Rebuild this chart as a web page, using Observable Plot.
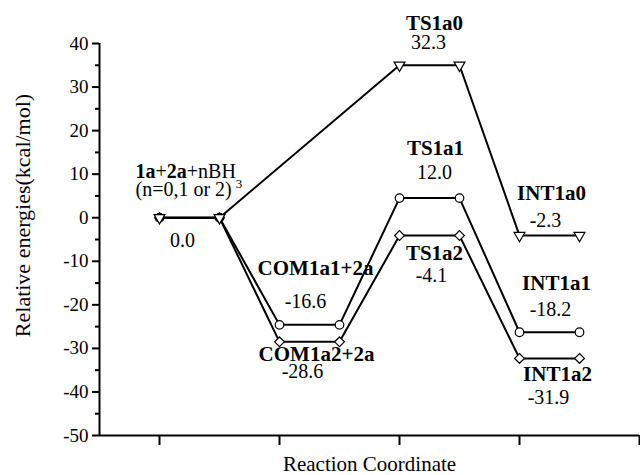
<!DOCTYPE html>
<html><head><meta charset="utf-8">
<script src="https://cdn.jsdelivr.net/npm/d3@7"></script>
<script src="https://cdn.jsdelivr.net/npm/@observablehq/plot@0.6"></script>
<style>body{margin:0;background:#fff} svg{display:block} svg text{font-family:'Liberation Serif','Times New Roman',Times,serif}</style>
</head><body><div id="chart"></div>
<script>
// ---- data ----
const triX  = [1, 1.5, 3, 3.5, 4, 4.5];
const triY  = [0, 0, 35.0, 35.0, -4.1, -4.1];
const circX = [1, 1.5, 2, 2.5, 3, 3.5, 4, 4.5];
const circY = [0, 0, -24.6, -24.6, 4.5, 4.5, -26.3, -26.3];
const diamX = [1, 1.5, 2, 2.5, 3, 3.5, 4, 4.5];
const diamY = [0, 0, -28.5, -28.5, -4.1, -4.1, -32.3, -32.3];

const yMajor = [-50, -40, -30, -20, -10, 0, 10, 20, 30, 40];
const yMinor = [-45, -35, -25, -15, -5, 5, 15, 25, 35];
const xTicks = [1, 2, 3, 4, 5];

const startName  = "1a+2a+nBH3";
const startNote  = "(n=0,1 or 2)";
const startValue = "0.0";
const stateNames  = ["COM1a1+2a", "COM1a2+2a", "TS1a0", "TS1a1", "TS1a2", "INT1a0", "INT1a1", "INT1a2"];
const stateValues = ["-16.6", "-28.6", "32.3", "12.0", "-4.1", "-2.3", "-18.2", "-31.9"];
const xTitle = "Reaction Coordinate";
const yTitle = "Relative energies(kcal/mol)";

// ---- build tables ----
const pts = (xs, ys) => xs.map((x, i) => ({x, y: ys[i]}));
const tri = pts(triX, triY), circ = pts(circX, circY), diam = pts(diamX, diamY);
const seg = (xs, ys, k) => ({x: (xs[2*k] + xs[2*k+1]) / 2, y: ys[2*k]});

const anchors = [
  seg(circX, circY, 1), seg(diamX, diamY, 1),
  seg(triX, triY, 1), seg(circX, circY, 2), seg(diamX, diamY, 2),
  seg(triX, triY, 2), seg(circX, circY, 3), seg(diamX, diamY, 3)
];
const nameOff  = [[6, -57], [7, 12], [5, -42], [6, -50], [5, 18], [2, -42], [7, -49], [8, 16]];
const valueOff = [[-4, -23], [-7, 30], [-1, -23], [5, -26], [2, 40], [-4, -15], [1, -23], [-1, 39]];
const nameRows  = stateNames.map((t, i) => ({...anchors[i], t, dx: nameOff[i][0], dy: nameOff[i][1]}));
const valueRows = stateValues.map((t, i) => ({...anchors[i], t, dx: valueOff[i][0], dy: valueOff[i][1]}));
const start = seg(triX, triY, 0);

const ff = "'Liberation Serif', 'Times New Roman', Times, serif";
const lbl = (rows, bold) => rows.map(r => Plot.text([r], {
  x: "x", y: "y", text: "t", dx: r.dx, dy: r.dy,
  fontSize: bold ? 21 : 20, fontFamily: ff, fontWeight: bold ? "bold" : "normal", fill: "black"
}));

const plot = Plot.plot({
  width: 640, height: 475,
  marginLeft: 99, marginRight: 1, marginTop: 43, marginBottom: 40,
  x: {domain: [0.5, 5], label: null},
  y: {domain: [-50, 40], label: null},
  style: `font-family: ${ff}; font-size: 19px; color: black; background: white; overflow: visible;`,
  marks: [
    Plot.axisY({ticks: yMinor, tickSize: 4, tickFormat: () => "", strokeWidth: 2, label: null}),
    Plot.axisY({ticks: yMajor, tickSize: 7, tickPadding: 4, strokeWidth: 2, fontSize: 19, fontFamily: ff,
                tickFormat: d => String(d), label: null}),
    Plot.axisX({ticks: xTicks, tickSize: 10, tickFormat: () => "", strokeWidth: 2, label: null}),
    Plot.ruleX([0.5], {strokeWidth: 2}),
    Plot.ruleY([-50], {strokeWidth: 2}),
    Plot.line(circ, {x: "x", y: "y", stroke: "black", strokeWidth: 2}),
    Plot.line(diam, {x: "x", y: "y", stroke: "black", strokeWidth: 2}),
    Plot.line(tri,  {x: "x", y: "y", stroke: "black", strokeWidth: 2}),
    Plot.dot(circ, {x: "x", y: "y", symbol: "circle", r: 4.3, fill: "white", stroke: "black", strokeWidth: 1.2}),
    Plot.dot(diam, {x: "x", y: "y", symbol: "diamond2", r: 4.4, fill: "white", stroke: "black", strokeWidth: 1.2}),
    Plot.dot(tri,  {x: "x", y: "y", symbol: "triangle", rotate: 180, r: 4.0, fill: "white", stroke: "black", strokeWidth: 1.2}),
    ...lbl(nameRows, true),
    ...lbl(valueRows, false),
    Plot.text([start], {x: triX[0], y: "y", text: () => startName, textAnchor: "start", dx: -24, dy: -46, fontSize: 20, fontFamily: ff}),
    Plot.text([start], {x: triX[0], y: "y", text: () => startNote, textAnchor: "start", dx: -24, dy: -28, fontSize: 20, fontFamily: ff}),
    Plot.text([start], {x: "x", y: "y", text: () => startValue, dx: -7, dy: 23, fontSize: 20, fontFamily: ff}),
    Plot.text([yTitle], {frameAnchor: "left", text: d => d, textAnchor: "middle", lineAnchor: "middle",
                         dx: -77, dy: -24, rotate: -90, fontSize: 22, fontFamily: ff}),
    Plot.text([xTitle], {frameAnchor: "bottom", text: d => d, textAnchor: "middle", lineAnchor: "middle",
                         dy: 29, fontSize: 21, fontFamily: ff})
  ]
});

// guarantee the serif face on every text
d3.select(plot).selectAll("text").style("font-family", ff);

// rich formatting for the reactant label
d3.select(plot).selectAll("text").filter(function() { return this.textContent === startName; })
  .each(function() {
    const t = d3.select(this);
    t.text("");
    t.append("tspan").attr("font-weight", "bold").text("1a");
    t.append("tspan").text("+");
    t.append("tspan").attr("font-weight", "bold").text("2a");
    t.append("tspan").text("+nBH");
    t.append("tspan").attr("font-size", 13).attr("dy", "0.75em").text("3");
  });

document.getElementById("chart").appendChild(plot);
</script>
</body></html>
